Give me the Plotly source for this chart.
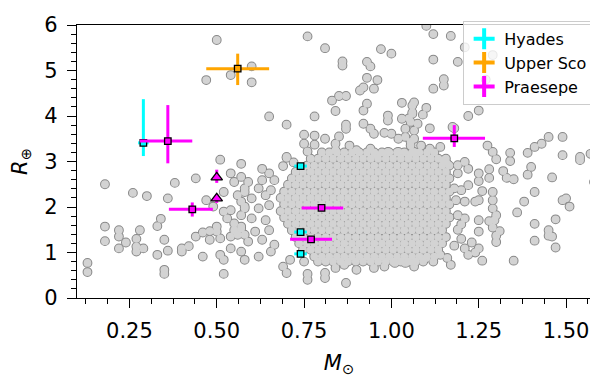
import plotly.graph_objects as go

# field planets: host mass (M_sun) vs planet radius (R_earth)
field_mass = [
    0.50, 0.47, 0.54, 0.60, 0.60, 0.51, 0.76, 0.81, 0.97, 1.00,
    0.86, 0.86, 0.93, 0.94, 0.93, 0.96, 0.91, 0.92, 0.95, 0.83,
    0.85, 0.87, 0.84, 0.93, 0.92, 1.03, 1.06, 0.65, 0.70, 0.78,
    0.99, 0.99, 1.03, 1.05, 1.06, 0.92, 0.87, 0.87, 0.75, 0.78,
    0.75, 0.78, 0.76, 0.81, 0.85, 0.84, 0.84, 0.94, 0.95, 0.98,
    1.00, 1.02, 1.04, 1.04, 1.065, 1.055, 0.88, 0.90, 0.94, 0.96,
    0.99, 1.02, 1.05, 1.065, 0.70,
    1.10, 1.12, 1.17, 1.21, 1.19, 1.29, 1.27, 1.12, 1.15, 1.15,
    1.12, 1.065, 1.10, 1.09, 1.06, 1.055, 1.075, 1.11, 1.22, 1.25,
    1.175, 1.594, 1.45, 1.49, 1.43, 1.41, 1.39, 1.34, 1.49, 1.54,
    1.57, 1.18, 1.065, 1.085, 1.055, 1.11, 1.14, 1.275, 1.29,
    1.54, 1.58, 1.594, 1.46, 1.41, 1.38, 1.36, 1.49, 1.50, 1.51,
    1.47, 1.41, 1.45, 1.45, 1.46, 1.41, 1.47, 1.35, 1.40, 1.39,
    1.34, 1.32, 1.33, 1.35, 1.30, 1.28, 1.28, 1.29, 1.29, 1.29,
    1.30, 1.295, 1.31, 1.30, 1.30, 1.26, 1.25, 1.24, 1.25, 1.25,
    1.22, 1.21, 1.19, 1.19, 1.22, 1.20, 1.18, 1.15, 1.16, 1.185,
    1.21, 1.19, 1.21, 1.25, 1.28, 1.25, 1.25, 1.26, 1.21, 1.22,
    1.17, 1.16, 1.14, 1.12, 1.10, 1.065, 1.29, 1.20, 1.23, 1.19,
    1.20, 1.18, 1.24,
    0.18, 0.26, 0.30, 0.36, 0.38, 0.44, 0.57, 0.18, 0.18, 0.22,
    0.22, 0.22, 0.24, 0.27, 0.27, 0.27, 0.29, 0.28, 0.33, 0.34,
    0.35, 0.36, 0.33, 0.35, 0.35, 0.13, 0.13, 0.40, 0.40, 0.42,
    0.44, 0.46, 0.46, 0.48, 0.50, 0.50, 0.48, 0.51, 0.54, 0.54,
    0.51, 0.52, 0.57, 0.58, 0.52, 0.47, 0.49, 0.52, 0.53, 0.54,
    0.55, 0.57, 0.57, 0.55, 0.56, 0.58, 0.54, 0.55, 0.57, 0.58,
    0.56, 0.52, 0.57, 0.58,
    0.63, 0.65, 0.63, 0.665, 0.59, 0.58, 0.62, 0.60, 0.64, 0.655,
    0.58, 0.62, 0.65, 0.60, 0.64, 0.57, 0.61, 0.65, 0.59, 0.63,
    0.665, 0.70, 0.72, 0.69, 0.69, 0.70, 0.76, 0.76, 0.81, 0.87,
    0.79, 0.75, 0.71, 0.62, 0.655, 0.84, 0.865, 0.90, 0.95, 0.98,
    1.01, 1.04, 1.06, 0.81,
]
field_radius = [
    5.67, 4.79, 4.90, 4.74, 5.09, 3.04, 5.75, 5.49, 5.47, 5.37,
    5.20, 5.11, 5.19, 5.09, 4.84, 4.79, 4.56, 4.63, 4.60, 4.34,
    4.44, 4.44, 4.11, 4.27, 4.12, 4.29, 4.23, 3.99, 3.81, 3.99,
    4.01, 3.90, 3.94, 3.95, 4.08, 3.83, 3.81, 3.72, 3.59, 3.57,
    3.39, 3.37, 3.22, 3.50, 3.55, 3.39, 3.25, 3.72, 3.61, 3.63,
    3.61, 3.50, 3.72, 3.54, 3.68, 3.43, 3.35, 3.25, 3.28, 3.14,
    3.21, 3.21, 3.14, 3.21, 3.08,
    5.98, 5.80, 5.76, 5.51, 5.19, 5.34, 4.80, 5.24, 4.81, 4.67,
    4.60, 4.30, 4.18, 4.03, 4.05, 3.87, 3.83, 3.73, 4.00, 4.12,
    3.76, 4.38, 3.54, 3.54, 3.39, 3.32, 3.19, 3.19, 3.14, 3.10,
    3.17, 3.73, 3.50, 3.35, 3.35, 3.28, 3.32, 3.35, 3.21,
    3.03, 2.55, 1.69, 2.65, 2.33, 2.12, 1.88, 2.15, 2.19, 2.01,
    1.73, 1.63, 1.49, 1.37, 1.35, 1.26, 1.11, 0.82, 2.88, 2.71,
    3.01, 2.79, 2.64, 2.61, 3.05, 2.83, 2.64, 2.33, 2.15, 1.97,
    1.82, 1.71, 1.47, 1.37, 1.23, 2.35, 2.15, 2.12, 2.57, 2.74,
    2.84, 2.99, 2.92, 2.74, 2.48, 2.37, 2.41, 3.03, 2.95, 2.15,
    2.12, 1.82, 1.75, 1.71, 1.69, 1.46, 1.09, 0.82, 1.09, 0.95,
    0.73, 0.88, 0.95, 0.80, 0.88, 0.69, 1.55, 1.30, 1.22, 1.50,
    1.62, 1.15, 1.00,
    2.50, 2.31, 2.24, 2.19, 2.53, 2.63, 2.95, 1.57, 1.25, 1.49,
    1.35, 1.09, 1.22, 1.30, 1.13, 1.02, 1.09, 1.49, 1.58, 1.74,
    1.28, 1.04, 0.95, 0.62, 0.53, 0.77, 0.57, 1.09, 1.02, 1.14,
    1.35, 0.91, 1.44, 1.47, 1.57, 1.46, 1.28, 1.31, 1.35, 1.09,
    0.95, 0.84, 1.02, 0.84, 0.53, 2.15, 2.01, 1.90, 1.75, 1.93,
    1.64, 1.82, 1.57, 1.49, 1.39, 1.39, 2.74, 2.55, 2.66, 2.41,
    2.26, 2.33, 2.12, 1.97,
    2.84, 2.74, 2.59, 2.59, 2.55, 2.33, 2.41, 2.19, 2.26, 2.37,
    2.01, 1.97, 2.04, 1.75, 1.71, 1.53, 1.46, 1.49, 1.24, 1.28,
    1.17, 3.10, 2.98, 2.90, 0.69, 0.55, 0.53, 0.40, 0.55, 0.33,
    0.80, 0.80, 0.84, 0.91, 1.02, 0.66, 0.73, 0.62, 0.66, 0.69,
    0.77, 0.77, 0.80, 0.44,
]

# the crowded core of the distribution, one list of masses per radius band
core_radius = [3.20, 3.06, 2.91, 2.77, 2.63, 2.49, 2.34, 2.20, 2.06,
               1.91, 1.77, 1.63, 1.49, 1.34, 1.20, 1.06, 0.91, 0.80]
core_mass = [
    [0.801, 0.822, 0.844, 0.865, 0.887, 0.908, 0.930, 0.951, 0.973, 0.994, 1.016, 1.037, 1.059, 1.080, 1.102, 1.123],
    [0.769, 0.790, 0.812, 0.833, 0.855, 0.876, 0.898, 0.919, 0.941, 0.962, 0.984, 1.005, 1.027, 1.048, 1.070, 1.091, 1.113, 1.134, 1.156],
    [0.758, 0.779, 0.801, 0.822, 0.844, 0.865, 0.887, 0.908, 0.930, 0.951, 0.973, 0.994, 1.016, 1.037, 1.059, 1.080, 1.102, 1.123, 1.145, 1.166],
    [0.726, 0.747, 0.769, 0.790, 0.812, 0.833, 0.855, 0.876, 0.898, 0.919, 0.941, 0.962, 0.984, 1.005, 1.027, 1.048, 1.070, 1.091, 1.113, 1.134, 1.156],
    [0.715, 0.736, 0.758, 0.779, 0.801, 0.822, 0.844, 0.865, 0.887, 0.908, 0.930, 0.951, 0.973, 0.994, 1.016, 1.037, 1.059, 1.080, 1.102, 1.123, 1.145, 1.166],
    [0.704, 0.726, 0.747, 0.769, 0.790, 0.812, 0.833, 0.855, 0.876, 0.898, 0.919, 0.941, 0.962, 0.984, 1.005, 1.027, 1.048, 1.070, 1.091, 1.113, 1.134, 1.156],
    [0.693, 0.715, 0.736, 0.758, 0.779, 0.801, 0.822, 0.844, 0.865, 0.887, 0.908, 0.930, 0.951, 0.973, 0.994, 1.016, 1.037, 1.059, 1.080, 1.102, 1.123, 1.145, 1.166],
    [0.683, 0.704, 0.726, 0.747, 0.769, 0.790, 0.812, 0.833, 0.855, 0.876, 0.898, 0.919, 0.941, 0.962, 0.984, 1.005, 1.027, 1.048, 1.070, 1.091, 1.113, 1.134, 1.156],
    [0.693, 0.715, 0.736, 0.758, 0.779, 0.801, 0.822, 0.844, 0.865, 0.887, 0.908, 0.930, 0.951, 0.973, 0.994, 1.016, 1.037, 1.059, 1.080, 1.102, 1.123, 1.145, 1.166],
    [0.683, 0.704, 0.726, 0.747, 0.769, 0.790, 0.812, 0.833, 0.855, 0.876, 0.898, 0.919, 0.941, 0.962, 0.984, 1.005, 1.027, 1.048, 1.070, 1.091, 1.113, 1.134, 1.156],
    [0.693, 0.715, 0.736, 0.758, 0.779, 0.801, 0.822, 0.844, 0.865, 0.887, 0.908, 0.930, 0.951, 0.973, 0.994, 1.016, 1.037, 1.059, 1.080, 1.102, 1.123, 1.145, 1.166],
    [0.704, 0.726, 0.747, 0.769, 0.790, 0.812, 0.833, 0.855, 0.876, 0.898, 0.919, 0.941, 0.962, 0.984, 1.005, 1.027, 1.048, 1.070, 1.091, 1.113, 1.134, 1.156],
    [0.715, 0.736, 0.758, 0.779, 0.801, 0.822, 0.844, 0.865, 0.887, 0.908, 0.930, 0.951, 0.973, 0.994, 1.016, 1.037, 1.059, 1.080, 1.102, 1.123, 1.145],
    [0.726, 0.747, 0.769, 0.790, 0.812, 0.833, 0.855, 0.876, 0.898, 0.919, 0.941, 0.962, 0.984, 1.005, 1.027, 1.048, 1.070, 1.091, 1.113, 1.134, 1.156],
    [0.736, 0.758, 0.779, 0.801, 0.822, 0.844, 0.865, 0.887, 0.908, 0.930, 0.951, 0.973, 0.994, 1.016, 1.037, 1.059, 1.080, 1.102, 1.123, 1.145],
    [0.747, 0.769, 0.790, 0.812, 0.833, 0.855, 0.876, 0.898, 0.919, 0.941, 0.962, 0.984, 1.005, 1.027, 1.048, 1.070, 1.091, 1.113, 1.134],
    [0.779, 0.801, 0.822, 0.844, 0.865, 0.887, 0.908, 0.930, 0.951, 0.973, 0.994, 1.016, 1.037, 1.059, 1.080, 1.102, 1.123],
    [0.812, 0.833, 0.855, 0.876, 0.898, 0.919, 0.941, 0.962, 0.984, 1.005, 1.027, 1.048, 1.070, 1.091],
]

# cluster planets
hyades_mass = [0.29, 0.74, 0.74, 0.74]
hyades_radius = [3.41, 2.90, 1.45, 0.97]
hyades_mass_err = [0.015, 0.018, 0.018, 0.018]
hyades_radius_up = [0.96, 0.03, 0.03, 0.03]
hyades_radius_down = [0.29, 0.03, 0.03, 0.03]

usco_mass = [0.56]
usco_radius = [5.04]
usco_mass_err = [0.09]
usco_radius_up = [0.33]
usco_radius_down = [0.36]

praesepe_mass = [0.36, 0.43, 0.80, 0.77, 1.18]
praesepe_radius = [3.45, 1.95, 1.98, 1.29, 3.51]
praesepe_mass_hi = [0.07, 0.059, 0.062, 0.06, 0.088]
praesepe_mass_lo = [0.08, 0.067, 0.057, 0.06, 0.09]
praesepe_radius_up = [0.79, 0.15, 0.05, 0.05, 0.29]
praesepe_radius_down = [0.49, 0.16, 0.05, 0.05, 0.19]

# Praesepe planets drawn with triangles
praesepe_tri_mass = [0.50, 0.50]
praesepe_tri_radius = [2.65, 2.19]
praesepe_tri_up = [0.17, 0.09]
praesepe_tri_down = [0.12, 0.10]

CYAN = '#00ffff'
ORANGE = '#ffa500'
MAGENTA = '#ff00ff'
FONT = 'DejaVu Sans'  # no serif face in the sandbox, this is the closest in width

all_mass = list(field_mass)
all_radius = list(field_radius)
for r, row in zip(core_radius, core_mass):
    all_mass += row
    all_radius += [r] * len(row)

fig = go.Figure()

# grey points: outlined layer first, then plain fill on top so only the outer edge shows
fig.add_trace(go.Scatter(
    x=all_mass, y=all_radius, mode='markers', showlegend=False, hoverinfo='skip',
    marker=dict(size=7.8, color='#d3d3d3', line=dict(color='#888888', width=2))))
fig.add_trace(go.Scatter(
    x=all_mass, y=all_radius, mode='markers', showlegend=False,
    marker=dict(size=7.8, color='#d3d3d3', line=dict(width=0))))


def cluster_trace(x, y, color, xhi, xlo, yup, ydown, symbol='square', size=6.5):
    return go.Scatter(
        x=x, y=y, mode='markers', showlegend=False,
        marker=dict(symbol=symbol, size=size, color=color,
                    line=dict(color='black', width=1.3)),
        error_x=dict(type='data', symmetric=False, array=xhi, arrayminus=xlo,
                     color=color, thickness=3, width=0),
        error_y=dict(type='data', symmetric=False, array=yup, arrayminus=ydown,
                     color=color, thickness=3, width=0))


fig.add_trace(cluster_trace(hyades_mass, hyades_radius, CYAN, hyades_mass_err,
                            hyades_mass_err, hyades_radius_up, hyades_radius_down))
fig.add_trace(cluster_trace(usco_mass, usco_radius, ORANGE, usco_mass_err,
                            usco_mass_err, usco_radius_up, usco_radius_down))
fig.add_trace(cluster_trace(praesepe_mass, praesepe_radius, MAGENTA, praesepe_mass_hi,
                            praesepe_mass_lo, praesepe_radius_up, praesepe_radius_down))
fig.add_trace(cluster_trace(praesepe_tri_mass, praesepe_tri_radius, MAGENTA, [0, 0], [0, 0],
                            praesepe_tri_up, praesepe_tri_down,
                            symbol='triangle-up', size=10))

# legend entries (plus signs like errorbar handles)
for name, color in [('Hyades', CYAN), ('Upper Sco', ORANGE), ('Praesepe', MAGENTA)]:
    fig.add_trace(go.Scatter(
        x=[None], y=[None], mode='markers', name=name,
        marker=dict(symbol='cross-thin', size=15, color=color,
                    line=dict(color=color, width=4))))

axis_common = dict(
    ticks='outside', ticklen=9, tickwidth=1.3, tickcolor='black',
    ticklabelstandoff=5, automargin=False,
    showline=True, linecolor='black', linewidth=1.3, mirror=True,
    showgrid=False, zeroline=False,
    tickfont=dict(family=FONT, size=21, color='black'),
)

fig.update_layout(
    width=598, height=388,
    margin=dict(l=69, r=5, t=17, b=98),
    plot_bgcolor='white', paper_bgcolor='white',
    xaxis=dict(
        range=[0.1, 1.6], tick0=0, dtick=0.25, tickformat='.2f',
        minor=dict(tick0=0, dtick=0.0625, ticks='outside', ticklen=5,
                   tickwidth=1, tickcolor='black', showgrid=False),
        title=dict(text='<i>M</i><sub>⊙</sub>', standoff=12,
                   font=dict(family=FONT, size=21, color='black')),
        **axis_common),
    yaxis=dict(
        range=[0, 6], tick0=0, dtick=1,
        minor=dict(tick0=0, dtick=0.2, ticks='outside', ticklen=5,
                   tickwidth=1, tickcolor='black', showgrid=False),
        title=dict(text='<i>R</i><sub>⊕</sub>', standoff=20,
                   font=dict(family=FONT, size=21, color='black')),
        **axis_common),
    legend=dict(
        x=0.985, y=1.015, xanchor='right', yanchor='top',
        bgcolor='rgba(255,255,255,0.8)', bordercolor='#cccccc', borderwidth=1,
        font=dict(family=FONT, size=16, color='black'),
        tracegroupgap=0),
)

fig.write_html("out.html")
